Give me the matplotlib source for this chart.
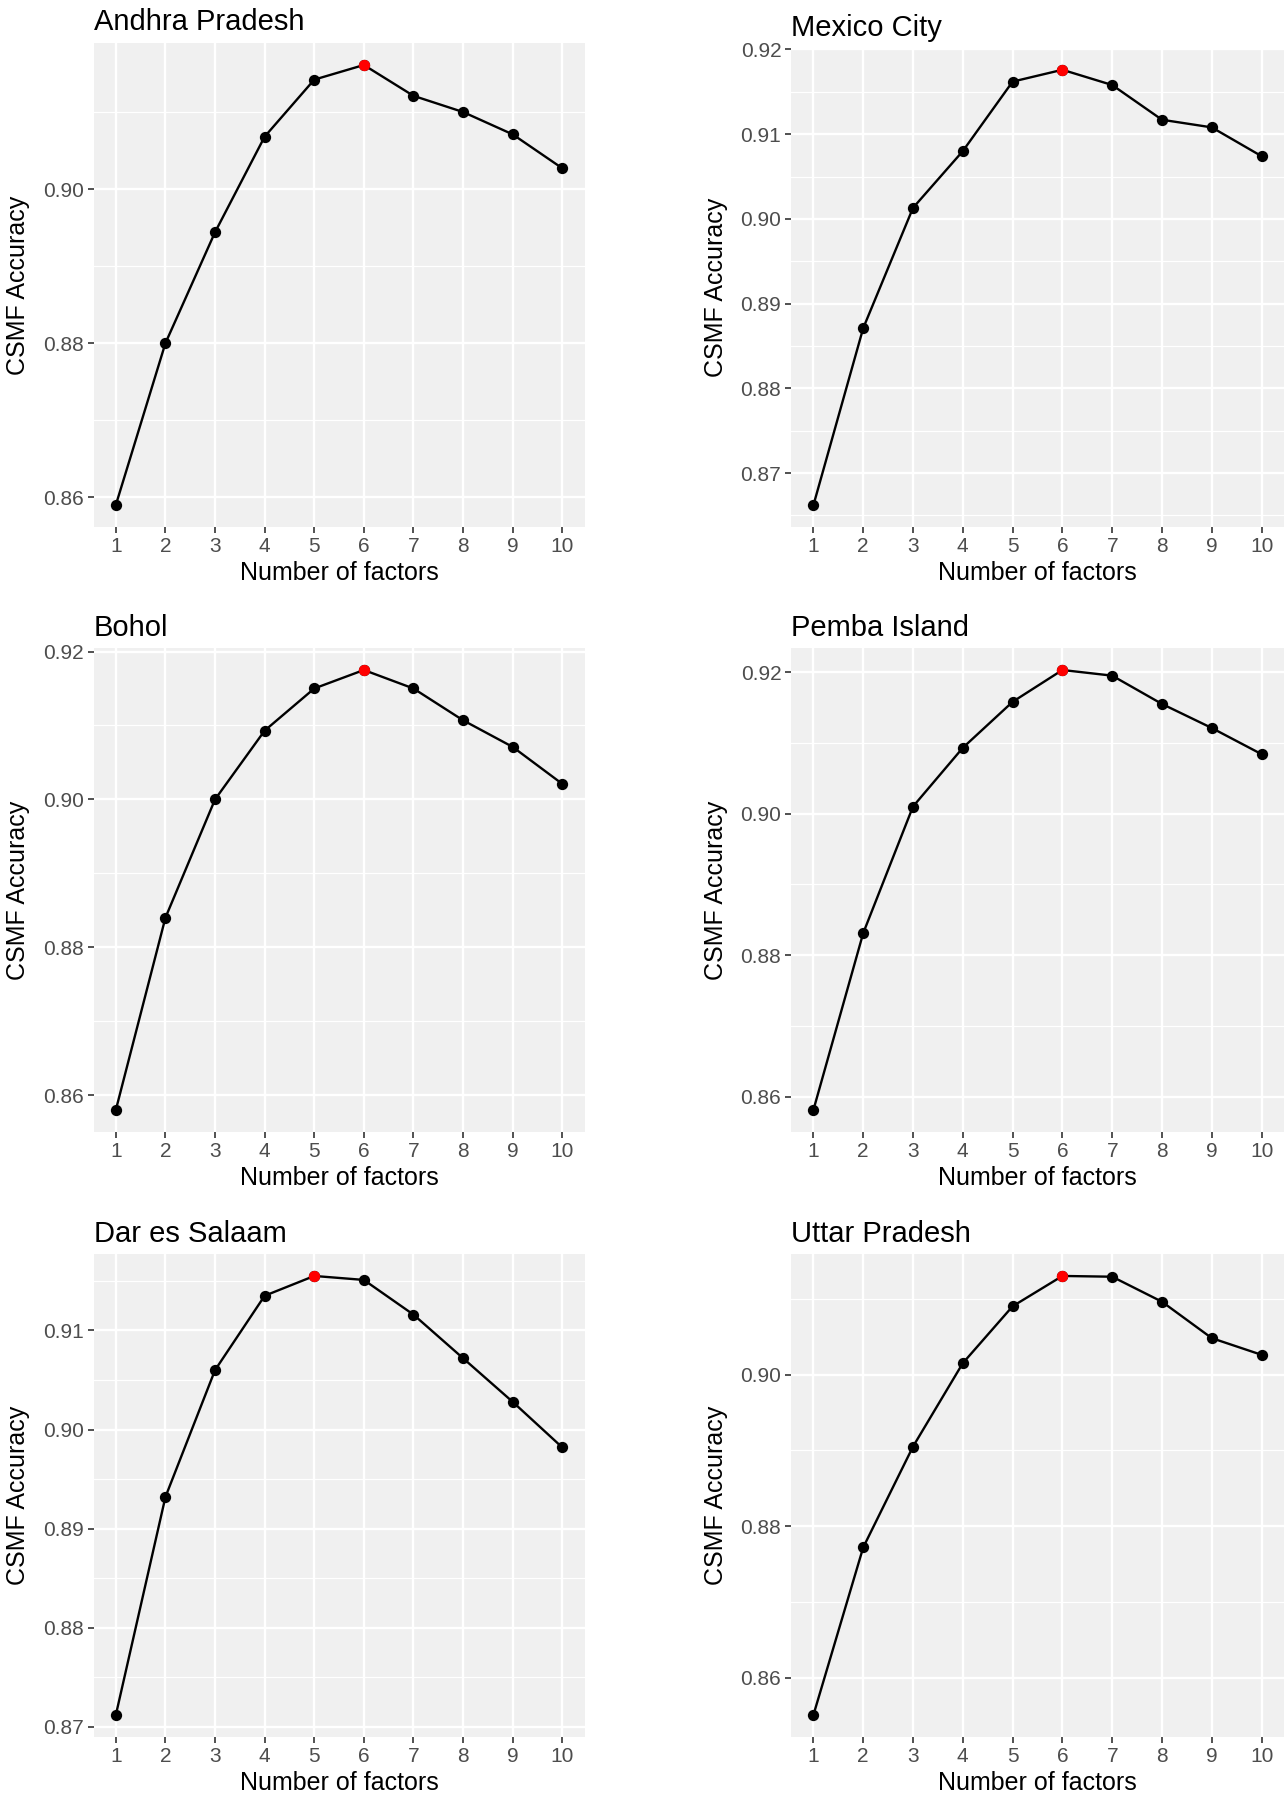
import matplotlib.pyplot as plt
import numpy as np
from matplotlib.ticker import MultipleLocator, FormatStrFormatter

plt.rcParams['font.family'] = ['Liberation Sans', 'DejaVu Sans']

# Number of factors on the x axis.
factors = np.arange(1, 11)

# CSMF accuracy.
andhra = [0.8590, 0.8800, 0.8944, 0.9068, 0.9142, 0.9161, 0.9121, 0.9100, 0.9071, 0.9027]
mexico = [0.8662, 0.8871, 0.9013, 0.9080, 0.9162, 0.9176, 0.9158, 0.9117, 0.9108, 0.9074]
bohol = [0.8580, 0.8840, 0.9000, 0.9093, 0.9150, 0.9175, 0.9150, 0.9107, 0.9071, 0.9021]
pemba = [0.8581, 0.8831, 0.9010, 0.9093, 0.9158, 0.9203, 0.9195, 0.9155, 0.9121, 0.9084]
dar = [0.8712, 0.8932, 0.9060, 0.9135, 0.9155, 0.9151, 0.9116, 0.9072, 0.9028, 0.8982]
uttar = [0.8551, 0.8772, 0.8905, 0.9015, 0.9090, 0.9130, 0.9129, 0.9096, 0.9048, 0.9026]

sites = ["Andhra Pradesh", "Mexico City", "Bohol", "Pemba Island", "Dar es Salaam", "Uttar Pradesh"]
series = [andhra, mexico, bohol, pemba, dar, uttar]
major_steps = [0.02, 0.01, 0.02, 0.02, 0.01, 0.02]

W, H = 1286, 1800
# panel boxes in pixels: left, top, right, bottom
boxes = [
    (93.5, 43, 584.6, 527),
    (791, 48, 1284, 527),
    (93.5, 648, 584.6, 1132),
    (791, 648, 1284, 1132),
    (93.5, 1254, 584.6, 1737),
    (791, 1254, 1284, 1737),
]

fig = plt.figure(figsize=(W / 100, H / 100), dpi=100)

for name, vals, step, (l, t, r, b) in zip(sites, series, major_steps, boxes):
    ax = fig.add_axes([l / W, 1 - b / H, (r - l) / W, (b - t) / H])
    vals = np.array(vals)
    best = int(np.argmax(vals))

    ax.set_facecolor("#F0F0F0")
    ax.plot(factors, vals, color="black", lw=1.7, zorder=3)
    ax.scatter(factors, vals, s=66, color="black", zorder=4, linewidths=0)
    ax.scatter(factors[best], vals[best], s=66, color="red", zorder=5, linewidths=0)

    lo, hi = vals.min(), vals.max()
    pad = (hi - lo) * 0.05
    ax.set_ylim(lo - pad, hi + pad)
    ax.set_xlim(0.55, 10.45)

    ax.set_xticks(factors)
    ax.yaxis.set_major_locator(MultipleLocator(step))
    ax.yaxis.set_minor_locator(MultipleLocator(step / 2))
    ax.yaxis.set_major_formatter(FormatStrFormatter("%.2f"))

    ax.grid(which="major", color="white", lw=1.7, zorder=1)
    ax.grid(which="minor", axis="y", color="white", lw=0.9, zorder=1)
    ax.set_axisbelow(True)
    for sp in ax.spines.values():
        sp.set_visible(False)

    ax.tick_params(axis="both", which="major", length=4, width=1.2, color="#333333",
                   labelsize=15, labelcolor="#4D4D4D", pad=3)
    ax.tick_params(axis="y", which="minor", length=0)

    ax.set_title(name, loc="left", fontsize=21, pad=9)
    ax.set_xlabel("Number of factors", fontsize=18, labelpad=4)
    ax.set_ylabel("CSMF Accuracy", fontsize=18, labelpad=9)

fig.savefig("out.png", dpi=100)
